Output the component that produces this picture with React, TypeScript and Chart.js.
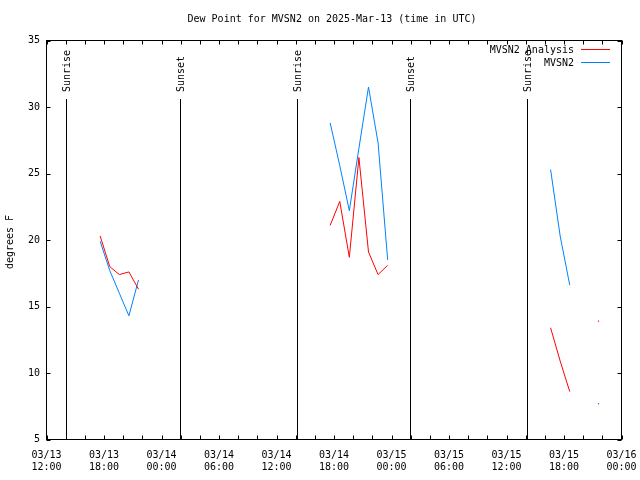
import React, { useEffect, useRef } from "react";
import { Chart, registerables } from "chart.js";

Chart.register(...registerables);

const TITLE = "Dew Point for MVSN2 on 2025-Mar-13 (time in UTC)";
const Y_TITLE = "degrees F";
// x values are hours since 03/13 12:00 UTC
const START_DAY = 13;
const START_HOUR = 12;
const X_MIN = 0;
const X_MAX = 60;
const X_MINOR_STEP = 2;
const X_LABEL_STEP = 6;
const Y_MIN = 5;
const Y_MAX = 35;
const Y_STEP = 5;

const sampleHours = [5.6, 6.6, 7.6, 8.6, 9.6, 29.6, 30.6, 31.6, 32.6, 33.6, 34.6, 35.6, 52.6, 53.6, 54.6, 57.6];
const analysisValues = [20.3, 18.0, 17.4, 17.6, 16.3, 21.1, 22.9, 18.7, 26.2, 19.1, 17.4, 18.1, 13.4, 10.9, 8.6, 13.9];
const observedValues = [19.9, 17.7, 16.0, 14.3, 17.0, 28.8, 25.6, 22.2, 26.9, 31.5, 27.3, 18.5, 25.3, 20.3, 16.6, 7.7];

const sunHours = [2.08, 13.97, 26.1, 37.95, 50.15];
const sunLabels = ["Sunrise", "Sunset", "Sunrise", "Sunset", "Sunrise"];

const seriesNames = ["MVSN2 Analysis", "MVSN2"];
const seriesColors = ["#ff0000", "#0080ff"];

const FONT = '"DejaVu Sans Mono", "Liberation Mono", monospace';
const MAX_GAP = 1.5;

const pad2 = (n: number) => String(n).padStart(2, "0");

function tickLabel(h: number): string[] | string {
  if (Math.abs(h % X_LABEL_STEP) > 1e-6) return "";
  const total = START_HOUR + h;
  const day = START_DAY + Math.floor(total / 24);
  const hh = total % 24;
  return ["03/" + pad2(day), pad2(hh) + ":00"];
}

function isolated(i: number): boolean {
  const prevGap = i > 0 ? sampleHours[i] - sampleHours[i - 1] : Infinity;
  const nextGap = i < sampleHours.length - 1 ? sampleHours[i + 1] - sampleHours[i] : Infinity;
  return prevGap > MAX_GAP && nextGap > MAX_GAP;
}

const overlayPlugin = {
  id: "overlay",
  beforeDatasetsDraw(chart: any) {
    const { ctx, chartArea, scales } = chart;
    const x = scales.x;
    ctx.save();
    ctx.strokeStyle = "#000";
    ctx.lineWidth = 1;
    ctx.fillStyle = "#000";
    ctx.font = "10px " + FONT;
    sunHours.forEach((h, i) => {
      const px = Math.round(x.getPixelForValue(h)) + 0.5;
      ctx.beginPath();
      ctx.moveTo(px, 99);
      ctx.lineTo(px, chartArea.bottom);
      ctx.stroke();
      ctx.save();
      ctx.translate(px + 1, 92);
      ctx.rotate(-Math.PI / 2);
      ctx.textAlign = "left";
      ctx.textBaseline = "middle";
      ctx.fillText(sunLabels[i], 0, 0);
      ctx.restore();
    });
    ctx.restore();
  },
  afterDraw(chart: any) {
    const { ctx, chartArea, scales } = chart;
    const { left, right, top, bottom } = chartArea;
    const x = scales.x;
    const y = scales.y;
    ctx.save();
    ctx.strokeStyle = "#000";
    ctx.lineWidth = 1;
    const TL = 4;
    ctx.beginPath();
    x.ticks.forEach((t: any) => {
      const px = Math.round(x.getPixelForValue(t.value)) + 0.5;
      ctx.moveTo(px, bottom);
      ctx.lineTo(px, bottom - TL);
      ctx.moveTo(px, top);
      ctx.lineTo(px, top + TL);
    });
    y.ticks.forEach((t: any) => {
      const py = Math.round(y.getPixelForValue(t.value)) + 0.5;
      ctx.moveTo(left, py);
      ctx.lineTo(left + TL, py);
      ctx.moveTo(right, py);
      ctx.lineTo(right - TL, py);
    });
    ctx.stroke();
    ctx.strokeRect(left, top, right - left, bottom - top);

    ctx.fillStyle = "#000";
    ctx.font = "10px " + FONT;
    ctx.textAlign = "center";
    ctx.textBaseline = "middle";
    ctx.fillText(TITLE, 332, 19);
    ctx.save();
    ctx.translate(10, 242);
    ctx.rotate(-Math.PI / 2);
    ctx.fillText(Y_TITLE, 0, 0);
    ctx.restore();
    seriesNames.forEach((name, i) => {
      const ly = 49.5 + i * 13;
      ctx.textAlign = "right";
      ctx.textBaseline = "middle";
      ctx.fillStyle = "#000";
      ctx.fillText(name, 574, ly + 1);
      ctx.strokeStyle = seriesColors[i];
      ctx.beginPath();
      ctx.moveTo(581, Math.round(ly) - 0.5);
      ctx.lineTo(610, Math.round(ly) - 0.5);
      ctx.stroke();
    });
    ctx.restore();
  },
};

export default function App() {
  const ref = useRef<HTMLCanvasElement | null>(null);
  useEffect(() => {
    if (!ref.current) return;
    const makeData = (vals: number[]) => vals.map((v, i) => ({ x: sampleHours[i], y: v }));
    const chart = new Chart(ref.current, {
      type: "line",
      data: {
        datasets: [analysisValues, observedValues].map((vals, k) => ({
          label: seriesNames[k],
          data: makeData(vals),
          borderColor: seriesColors[k],
          backgroundColor: seriesColors[k],
          borderWidth: 1,
          pointRadius: (c: any) => (isolated(c.dataIndex) ? 0.8 : 0),
          pointStyle: "rect",
          pointBorderWidth: 0,
          spanGaps: MAX_GAP,
          tension: 0,
          fill: false,
        })),
      },
      options: {
        animation: false,
        responsive: false,
        devicePixelRatio: 1,
        layout: { padding: { left: 0, top: 40.5, right: 18.5, bottom: 0 } },
        plugins: { legend: { display: false }, title: { display: false }, tooltip: { enabled: false } },
        scales: {
          x: {
            type: "linear",
            min: X_MIN,
            max: X_MAX,
            grid: { display: false, drawTicks: false },
            border: { display: false },
            afterFit: (s: any) => {
              s.height = 40.5;
              s.paddingLeft = 0;
              s.paddingRight = 0;
            },
            ticks: {
              stepSize: X_MINOR_STEP,
              autoSkip: false,
              maxRotation: 0,
              minRotation: 0,
              padding: 10,
              color: "#000",
              font: { family: FONT, size: 10, lineHeight: 1.2 },
              callback: (v: any) => tickLabel(Number(v)),
            },
          },
          y: {
            type: "linear",
            min: Y_MIN,
            max: Y_MAX,
            grid: { display: false, drawTicks: false },
            border: { display: false },
            afterFit: (s: any) => {
              s.width = 46.5;
              s.paddingTop = 0;
              s.paddingBottom = 0;
            },
            ticks: {
              stepSize: Y_STEP,
              padding: 6.5,
              color: "#000",
              font: { family: FONT, size: 10 },
            },
          },
        },
      },
      plugins: [overlayPlugin],
    } as any);
    return () => chart.destroy();
  }, []);
  return (
    <div style={{ position: "absolute", left: 0, top: 0, width: 640, height: 480, background: "#fff" }}>
      <canvas ref={ref} width={640} height={480} style={{ display: "block" }} />
    </div>
  );
}
